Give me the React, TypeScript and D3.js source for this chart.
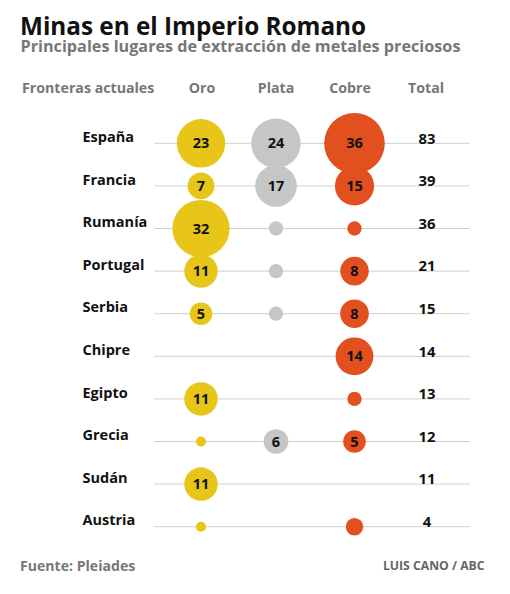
import React from "react";
import * as d3 from "d3";

const countries = ["España", "Francia", "Rumanía", "Portugal", "Serbia", "Chipre", "Egipto", "Grecia", "Sudán", "Austria"];
const oro = [23, 7, 32, 11, 5, 0, 11, 1, 11, 1];
const plata = [24, 17, 2, 2, 2, 0, 0, 6, 0, 0];
const cobre = [36, 15, 2, 8, 8, 14, 2, 5, 0, 3];
const totals = [83, 39, 36, 21, 15, 14, 13, 12, 11, 4];
const metals = ["Oro", "Plata", "Cobre"];
const metalColors = ["#e7c519", "#c6c6c6", "#e1501e"];

const W = 510;
const H = 594;
const FONT = "'Open Sans', 'Noto Sans', sans-serif";

export default function App() {
  const series = [oro, plata, cobre];
  const y = d3.scalePoint<string>().domain(countries).range([143.3, 526.7]);
  const x = d3.scaleOrdinal<string, number>().domain(metals).range([201, 276, 354.5]);
  const r = d3.scaleSqrt().domain([0, 36]).range([0, 30.3]);
  const totalX = 427;
  return (
    <svg width={W} height={H} style={{ position: "absolute", left: 0, top: 0, background: "#fff" }} fontFamily={FONT}>
      <rect width={W} height={H} fill="#fff" />
      <text x={20} y={34.5} fontSize={24.3} fontWeight={700} fill="#111">Minas en el Imperio Romano</text>
      <text x={20.5} y={52} fontSize={16.2} fontWeight={700} fill="#777">Principales lugares de extracción de metales preciosos</text>
      <text x={22} y={93.3} fontSize={14.2} fontWeight={700} fill="#777">Fronteras actuales</text>
      {metals.map((m, i) => (
        <text key={m} x={[202, 276, 350][i]} y={93.3} fontSize={14.2} fontWeight={700} fill="#777" textAnchor="middle">{m}</text>
      ))}
      <text x={426} y={92.7} fontSize={14.2} fontWeight={700} fill="#777" textAnchor="middle">Total</text>
      {countries.map((c) => (
        <line key={"l" + c} x1={154.5} x2={469.5} y1={y(c)!} y2={y(c)!} stroke="#cfcfcf" strokeWidth={1} />
      ))}
      {countries.map((c) => (
        <text key={"c" + c} x={82.5} y={y(c)! - 1.3} fontSize={14.5} fontWeight={700} fill="#111">{c}</text>
      ))}
      {countries.map((c, ci) => (
        <text key={"t" + c} x={totalX} y={y(c)! + 0.2} fontSize={14.8} fontWeight={700} fill="#111" textAnchor="middle">{totals[ci]}</text>
      ))}
      {metals.map((m, mi) =>
        countries.map((c, ci) => {
          const v = series[mi][ci];
          if (!v) return null;
          return <circle key={m + c} cx={x(m)} cy={y(c)!} r={r(v)} fill={metalColors[mi]} />;
        })
      )}
      {metals.map((m, mi) =>
        countries.map((c, ci) => {
          const v = series[mi][ci];
          if (!v || v < 5) return null;
          return (
            <text key={"v" + m + c} x={x(m)} y={y(c)! + 5} fontSize={14.5} fontWeight={700} fill="#111" textAnchor="middle">{v}</text>
          );
        })
      )}
      <text x={20} y={570.7} fontSize={14.1} fontWeight={700} fill="#777">Fuente: Pleiades</text>
      <text x={484.5} y={570.3} fontSize={12.2} fontWeight={700} fill="#666" textAnchor="end">LUIS CANO / ABC</text>
    </svg>
  );
}
